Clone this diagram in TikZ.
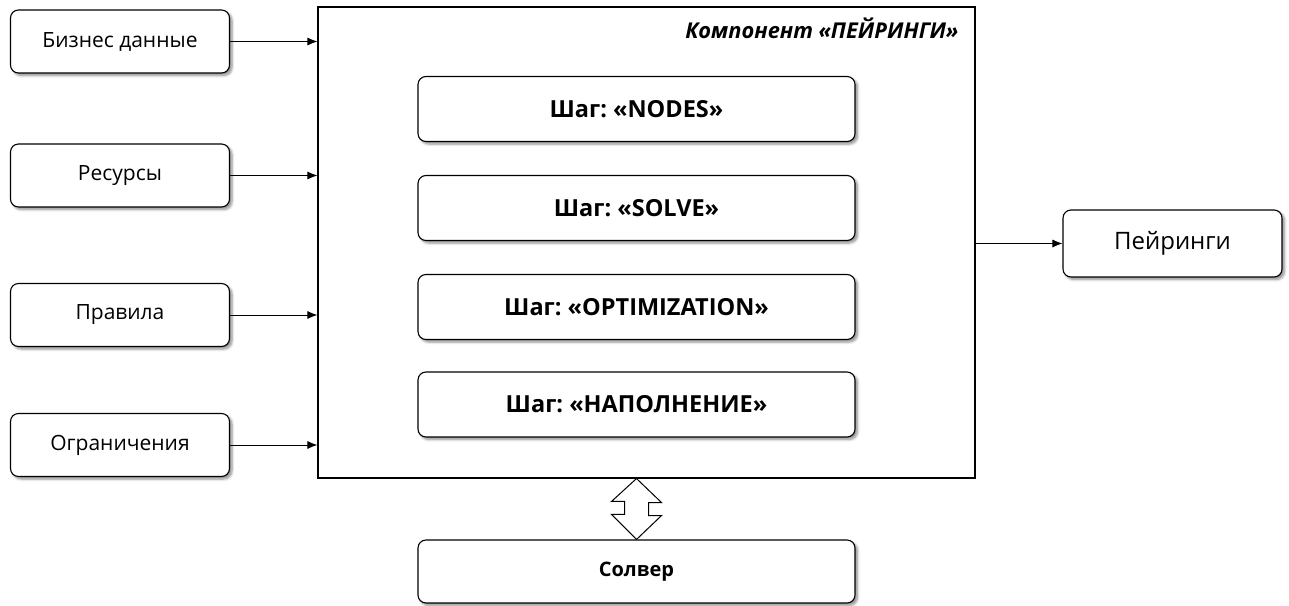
\documentclass[tikz,border=0pt]{standalone}
\usepackage{fontspec}
\setmainfont{Open Sans}
\usetikzlibrary{shadows.blur,arrows.meta,calc}
\tikzset{
  box/.style={draw=black, line width=1.1pt, rounded corners=8pt, fill=white,
    blur shadow={shadow xshift=2.5pt, shadow yshift=-2.5pt, shadow blur radius=2.5pt,
      shadow blur steps=6, shadow opacity=45},
    inner sep=0pt, font=\fontsize{21}{25}\selectfont},
  inbox/.style={box, minimum width=219pt, minimum height=63pt},
  stepbox/.style={box, minimum width=437pt, minimum height=65pt,
    font=\fontsize{23.5}{28}\selectfont\bfseries},
  arr/.style={line width=1pt, -{Latex[length=10pt,width=8pt]}},
}
\frenchspacing
\begin{document}
\begin{tikzpicture}[x=1pt,y=-1pt]
\useasboundingbox (0,0) rectangle (1289,605);
% component frame
\node[draw=black, line width=1.1pt, minimum width=657pt, minimum height=471pt, inner sep=0pt]
  (comp) at (646.5,242.5) {};
\node[anchor=base east, font=\fontsize{21.8}{26}\selectfont\bfseries\itshape]
  (title) at (962,38) {Компонент «ПЕЙРИНГИ»};
% inputs
\node[inbox] (biz) at (120,41.5) {Бизнес данные};
\node[inbox] (res) at (120,175.5) {Ресурсы};
\node[inbox] (rul) at (120,315) {Правила};
\node[inbox] (lim) at (120,445) {Ограничения};
% steps
\node[stepbox] (s1) at (636.5,109) {Шаг: «NODES»};
\node[stepbox] (s2) at (636.5,208) {Шаг: «SOLVE»};
\node[stepbox] (s3) at (636.5,307) {Шаг: «OPTIMIZATION»};
\node[stepbox] (s4) at (636.5,404.5) {Шаг: «НАПОЛНЕНИЕ»};
% solver and output
\node[stepbox, minimum height=63pt, font=\fontsize{20}{24}\selectfont\bfseries]
  (solver) at (636.5,571.5) {Солвер};
\node[inbox, minimum height=67pt, font=\fontsize{24}{28}\selectfont]
  (out) at (1172.5,243.5) {Пейринги};
% connectors
\foreach \n in {biz,res,rul,lim}
  \draw[arr] (\n.east) -- (\n.east -| comp.west);
\draw[arr] (out.west -| comp.east) -- (out.west);
% two-way arrow between component and solver
\draw[line width=1pt, fill=white, line join=miter]
  (comp.south -| solver.north)
  -- ++(25,24) -- ++(-13,0) -- ++(0,13) -- ++(13,0)
  -- (solver.north) -- ++(-25,-25) -- ++(13,0) -- ++(0,-13) -- ++(-13,0) -- cycle;
\end{tikzpicture}
\end{document}
